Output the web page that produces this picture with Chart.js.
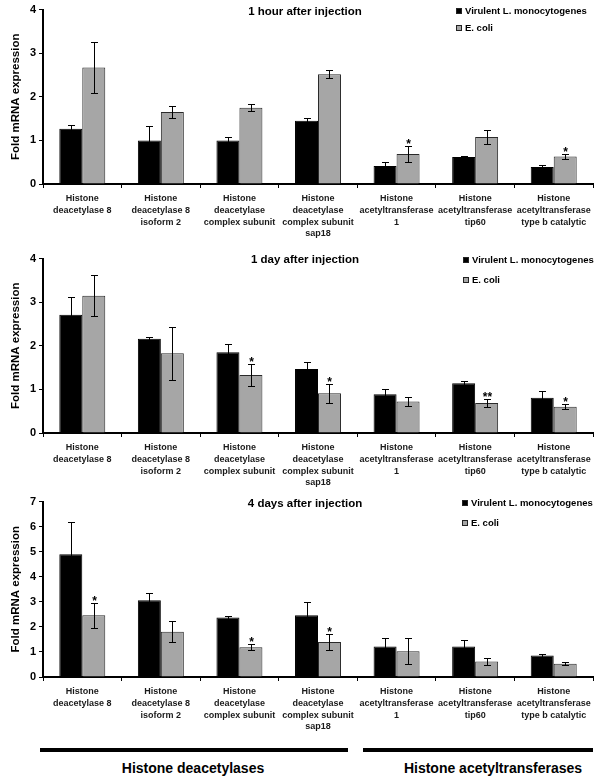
<!DOCTYPE html>
<html lang="en">
<head>
    <title>Fold mRNA expression</title>
    <script src="https://cdn.jsdelivr.net/npm/chart.js@4.4.0/dist/chart.umd.min.js"></script>
    <style>
        body { margin: 0; background: #fff; width: 600px; height: 781px; position: relative; overflow: hidden; }
        canvas { position: absolute; left: 0; }
        .bar { position: absolute; height: 4px; background: #000; top: 748px; }
        .grp { position: absolute; top: 760px; font: bold 14px Arial, "Liberation Sans", sans-serif; color: #000; text-align: center; width: 240px; }
    </style>
</head>
<body>
    <canvas id="c1" width="600" height="245" style="top:0px"></canvas>
    <canvas id="c2" width="600" height="242" style="top:249px"></canvas>
    <canvas id="c3" width="600" height="240" style="top:492px"></canvas>

    <div class="bar" style="left:40px;width:308px"></div>
    <div class="bar" style="left:363px;width:230px"></div>
    <div class="grp" style="left:73px">Histone deacetylases</div>
    <div class="grp" style="left:373px">Histone acetyltransferases</div>

    <script>
        const categories = [
            ["Histone", "deacetylase 8"],
            ["Histone", "deacetylase 8", "isoform 2"],
            ["Histone", "deacetylase", "complex subunit"],
            ["Histone", "deacetylase", "complex subunit", "sap18"],
            ["Histone", "acetyltransferase", "1"],
            ["Histone", "acetyltransferase", "tip60"],
            ["Histone", "acetyltransferase", "type b catalytic"]
        ];
        const seriesNames = ["Virulent L. monocytogenes", "E. coli"];

        // 1 hour after injection
        const lm1 = [1.27, 1.0, 1.0, 1.45, 0.41, 0.62, 0.39];
        const lm1Err = [0.08, 0.33, 0.08, 0.07, 0.10, 0.02, 0.05];
        const ec1 = [2.67, 1.65, 1.75, 2.52, 0.69, 1.08, 0.63];
        const ec1Err = [0.59, 0.13, 0.08, 0.10, 0.19, 0.16, 0.06];
        const sig1 = ["", "", "", "", "*", "", "*"];

        // 1 day after injection
        const lm2 = [2.71, 2.16, 1.85, 1.47, 0.89, 1.14, 0.81];
        const lm2Err = [0.40, 0.04, 0.19, 0.15, 0.11, 0.05, 0.16];
        const ec2 = [3.15, 1.83, 1.33, 0.91, 0.72, 0.69, 0.60];
        const ec2Err = [0.47, 0.61, 0.25, 0.22, 0.11, 0.10, 0.06];
        const sig2 = ["", "", "*", "*", "", "**", "*"];

        // 4 days after injection
        const lm3 = [4.90, 3.06, 2.37, 2.46, 1.22, 1.22, 0.86];
        const lm3Err = [1.30, 0.30, 0.07, 0.52, 0.33, 0.25, 0.07];
        const ec3 = [2.46, 1.81, 1.19, 1.40, 1.03, 0.62, 0.53];
        const ec3Err = [0.50, 0.43, 0.11, 0.33, 0.52, 0.13, 0.05];
        const sig3 = ["*", "", "*", "*", "", "", ""];

        const FONT = 'Arial, "Liberation Sans", sans-serif';
        Chart.defaults.font.family = FONT;
        Chart.defaults.color = '#111';

        // error bars, stars, title and legend drawn on top of the bars
        const extras = {
            id: 'extras',
            afterDatasetsDraw(chart, args, opts) {
                const ctx = chart.ctx, y = chart.scales.y;
                ctx.save();
                ctx.strokeStyle = '#000';
                ctx.lineWidth = 1;
                chart.data.datasets.forEach((ds, i) => {
                    const meta = chart.getDatasetMeta(i);
                    meta.data.forEach((bar, j) => {
                        const v = ds.data[j], e = ds.errors[j];
                        const x = Math.round(bar.x) + 0.5;
                        const top = Math.round(y.getPixelForValue(v + e)) + 0.5;
                        const bot = Math.round(y.getPixelForValue(v - e)) + 0.5;
                        ctx.beginPath();
                        ctx.moveTo(x, top); ctx.lineTo(x, bot);
                        ctx.moveTo(x - 3.5, top); ctx.lineTo(x + 3.5, top);
                        ctx.moveTo(x - 3.5, bot); ctx.lineTo(x + 3.5, bot);
                        ctx.stroke();
                        if (ds.sig && ds.sig[j]) {
                            ctx.fillStyle = '#000';
                            ctx.font = 'bold 12px ' + FONT;
                            ctx.textAlign = 'center';
                            ctx.textBaseline = 'alphabetic';
                            ctx.fillText(ds.sig[j], x, top + 1);
                        }
                    });
                });

                ctx.fillStyle = '#000';
                ctx.font = 'bold 11.5px ' + FONT;
                ctx.textAlign = 'center';
                ctx.textBaseline = 'middle';
                ctx.fillText(opts.title, 305, opts.titleY);

                ctx.font = 'bold 9.5px ' + FONT;
                ctx.textAlign = 'left';
                chart.data.datasets.forEach((ds, i) => {
                    const ly = opts.legendY + i * opts.legendGap;
                    ctx.fillStyle = ds.backgroundColor;
                    ctx.fillRect(opts.legendX, ly - 3, 6, 6);
                    ctx.strokeStyle = '#222';
                    ctx.strokeRect(opts.legendX + 0.5, ly - 2.5, 5, 5);
                    ctx.fillStyle = '#000';
                    ctx.fillText(ds.label, opts.legendX + 9, ly + 0.5);
                });
                ctx.restore();
            }
        };

        function makePanel(id, title, lm, lmErr, ec, ecErr, sig, yMax, plotBottom, lay) {
            const canvas = document.getElementById(id);
            const H = canvas.height;
            return new Chart(canvas.getContext('2d'), {
                type: 'bar',
                data: {
                    labels: categories,
                    datasets: [
                        { label: seriesNames[0], data: lm, errors: lmErr, backgroundColor: '#000000', borderColor: '#000000', borderWidth: 1 },
                        { label: seriesNames[1], data: ec, errors: ecErr, sig: sig, backgroundColor: '#a6a6a6', borderColor: '#2a2a2a', borderWidth: 1 }
                    ]
                },
                options: {
                    responsive: false,
                    animation: false,
                    devicePixelRatio: 1,
                    layout: { padding: { top: 7, right: 7, left: 0, bottom: 0 } },
                    datasets: { bar: { categoryPercentage: 0.585, barPercentage: 1.0 } },
                    plugins: {
                        legend: { display: false },
                        tooltip: { enabled: false },
                        extras: { title: title, titleY: lay.titleY, legendX: lay.legendX, legendY: lay.legendY, legendGap: lay.legendGap }
                    },
                    scales: {
                        x: {
                            grid: { display: true, drawOnChartArea: false, drawTicks: true, tickLength: 4, color: '#000', offset: true },
                            border: { display: true, color: '#000', width: 2 },
                            ticks: { color: '#1a1a1a', font: { size: 9, weight: 'bold', lineHeight: 1.3 }, padding: 5, maxRotation: 0, autoSkip: false },
                            afterFit(scale) { scale.height = H - plotBottom; }
                        },
                        y: {
                            min: 0, max: yMax,
                            grid: { display: true, drawOnChartArea: false, drawTicks: true, tickLength: 4, color: '#000' },
                            border: { display: true, color: '#000', width: 2 },
                            ticks: { stepSize: 1, color: '#000', font: { size: 11, weight: 'bold' }, padding: 3 },
                            title: { display: true, text: 'Fold mRNA expression', color: '#000', font: { size: 11.5, weight: 'bold' }, padding: { top: 9, bottom: 0 } },
                            afterFit(scale) { scale.width = 43; }
                        }
                    }
                },
                plugins: [extras]
            });
        }

        makePanel('c1', '1 hour after injection', lm1, lm1Err, ec1, ec1Err, sig1, 4, 184,
            { titleY: 12, legendX: 456, legendY: 11, legendGap: 17 });
        makePanel('c2', '1 day after injection', lm2, lm2Err, ec2, ec2Err, sig2, 4, 184,
            { titleY: 11, legendX: 463, legendY: 11, legendGap: 20 });
        makePanel('c3', '4 days after injection', lm3, lm3Err, ec3, ec3Err, sig3, 7, 185,
            { titleY: 12, legendX: 462, legendY: 11, legendGap: 20 });
    </script>
</body>
</html>
